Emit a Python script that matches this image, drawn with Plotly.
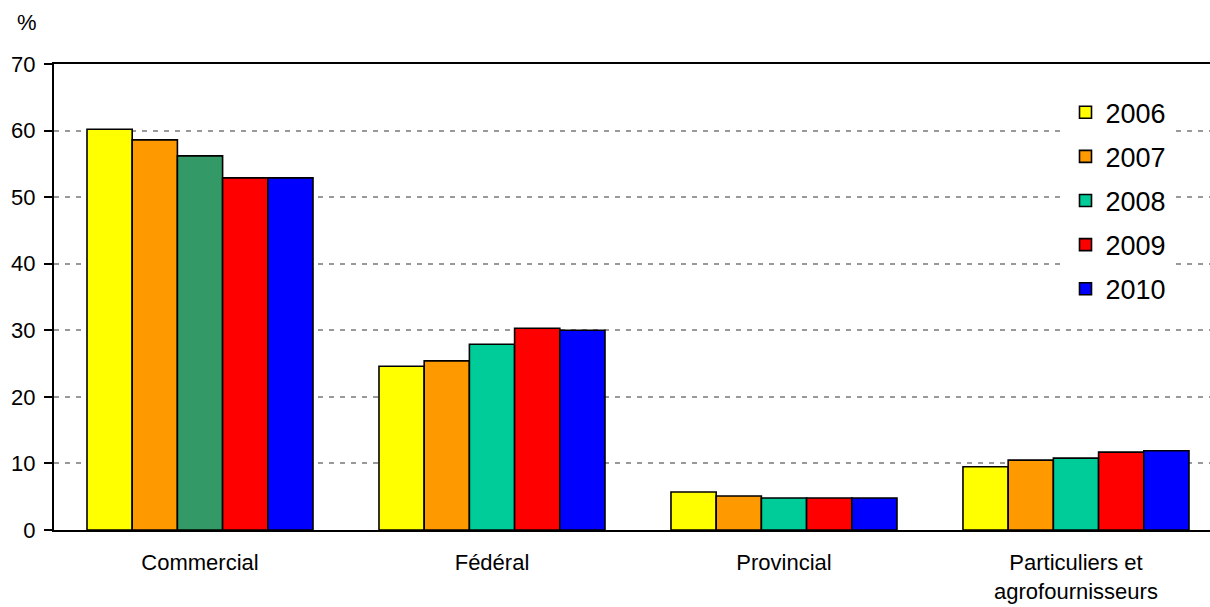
import plotly.graph_objects as go

categories = ["Commercial", "Fédéral", "Provincial", "Particuliers et<br>agrofournisseurs"]
years = ["2006", "2007", "2008", "2009", "2010"]
v2006 = [60.2, 24.6, 5.7, 9.5]
v2007 = [58.6, 25.4, 5.1, 10.5]
v2008 = [56.2, 27.9, 4.8, 10.8]
v2009 = [52.9, 30.3, 4.8, 11.7]
v2010 = [52.9, 30.0, 4.8, 11.9]
series = [v2006, v2007, v2008, v2009, v2010]
colors = ["#FFFF00", "#FF9900", "#00CC99", "#FF0000", "#0000FF"]
colors_2008 = ["#339966", "#00CC99", "#00CC99", "#00CC99"]

fig = go.Figure()
for y, vals, c in zip(years, series, colors):
    xs, ys, mc = list(categories), list(vals), c
    if y == "2008":
        # list Commercial last so the legend swatch takes the regular teal
        xs = xs[1:] + xs[:1]
        ys = ys[1:] + ys[:1]
        mc = colors_2008[1:] + colors_2008[:1]
    fig.add_trace(go.Bar(
        x=xs, y=ys, name=y, legendgroup=y,
        marker=dict(color=mc, line=dict(color="black", width=1.6)),
    ))

fig.update_layout(
    width=1210, height=607,
    margin=dict(l=54, r=0, t=64, b=77),
    plot_bgcolor="white", paper_bgcolor="white",
    barmode="group", bargap=0.226, bargroupgap=0,
    font=dict(family="Arial, Liberation Sans, sans-serif", color="black", size=22),
    legend=dict(x=0.875, y=0.948, xanchor="left", yanchor="top",
                font=dict(size=27), bgcolor="white", tracegroupgap=6,
                traceorder="grouped"),
    showlegend=True,
)
fig.update_xaxes(
    categoryorder="array", categoryarray=categories,
    range=[-0.5, 3.459], showline=True, linecolor="black", linewidth=2,
    mirror=True, ticks="", showgrid=False, tickfont=dict(size=22),
    ticklabelstandoff=12,
)
fig.update_yaxes(
    range=[0, 70], dtick=10, showline=True, linecolor="black", linewidth=2,
    ticks="outside", ticklen=8, tickwidth=2, tickcolor="black",
    showgrid=True, gridcolor="#999999", griddash="5px,6px", gridwidth=2,
    tickfont=dict(size=22), zeroline=False, ticklabelstandoff=4,
)
fig.add_annotation(text="%", x=-0.0234, y=1.088, xref="paper", yref="paper",
                   xanchor="center", yanchor="middle", showarrow=False, font=dict(size=22))
fig.write_html("out.html", config={"displayModeBar": False},
               post_script="document.body.style.margin='0';document.body.style.overflow='hidden';")
